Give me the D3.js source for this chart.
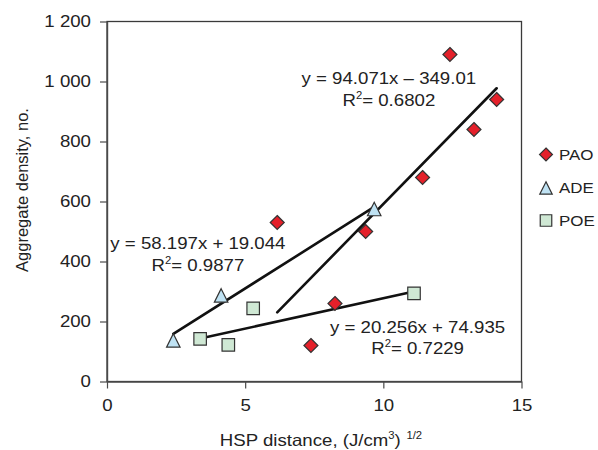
<!DOCTYPE html>
<html>
<head>
<meta charset="utf-8">
<script src="https://cdn.jsdelivr.net/npm/d3@7"></script>
<style>
  html, body { margin: 0; padding: 0; background: #fff; }
  svg { display: block; font-family: "Liberation Sans", Arial, Helvetica, sans-serif; }
  text { fill: #222; }
  .sx { transform-box: fill-box; transform: scaleX(1.13); }
  .sx-start { transform-origin: left center; }
  .sx-mid { transform-origin: center center; }
  .sx-end { transform-origin: right center; }
</style>
</head>
<body>
<svg id="chart" width="598" height="450"></svg>
<script>
// Series: HSP distance (x) vs aggregate density (y)
const seriesNames = ["PAO", "ADE", "POE"];
const paoX = [12.41, 14.10, 13.28, 11.42, 6.16, 9.36, 8.25, 7.38];
const paoY = [1090, 940, 840, 680, 530, 500, 260, 120];
const adeX = [2.40, 4.13, 9.67];
const adeY = [137, 287, 575];
const poeX = [3.37, 4.39, 5.29, 11.11];
const poeY = [142, 122, 244, 294];

// Linear trendlines (slope, intercept) and their fit quality
const trendSlopes = [94.071, 58.197, 20.256];
const trendIntercepts = [-349.01, 19.044, 74.935];
const trendEquations = ["y = 94.071x \u2013 349.01", "y = 58.197x + 19.044", "y = 20.256x + 74.935"];
const trendR2 = ["0.6802", "0.9877", "0.7229"];
// Anchor of each equation label, in data units
const labelX = [10.2, 3.29, 11.24];
const labelY = [990, 440, 162];

// Axis ticks
const xTicks = [0, 5, 10, 15];
const yTicks = [0, 200, 400, 600, 800, 1000, 1200];

const svg = d3.select("#chart");
const x = d3.scaleLinear().domain([0, 15]).range([107, 521.5]);
const y = d3.scaleLinear().domain([0, 1200]).range([381.5, 21.5]);

const fmt = d3.formatLocale({ decimal: ".", thousands: " ", grouping: [3], currency: ["", ""] }).format(",");

// Plot frame
svg.append("rect")
  .attr("x", x(0)).attr("y", y(1200))
  .attr("width", x(15) - x(0)).attr("height", y(0) - y(1200))
  .attr("fill", "none").attr("stroke", "#3a3a3a").attr("stroke-width", 1.3);

// Axes
const yAxis = svg.append("g").attr("transform", `translate(${x(0)},0)`)
  .call(d3.axisLeft(y).tickValues(yTicks).tickFormat(fmt).tickSize(7).tickPadding(9).tickSizeOuter(0));
const xAxis = svg.append("g").attr("transform", `translate(0,${y(0)})`)
  .call(d3.axisBottom(x).tickValues(xTicks).tickFormat(d3.format("d")).tickSize(7).tickPadding(11).tickSizeOuter(0));
[xAxis, yAxis].forEach(g => {
  g.selectAll("path.domain").attr("stroke", "#4a4a4a").attr("stroke-width", 1.4);
  g.selectAll(".tick line").attr("stroke", "#4a4a4a").attr("stroke-width", 1.2);
  g.selectAll(".tick text").attr("font-size", 16.5).attr("fill", "#222")
    .style("font-family", "'Liberation Sans', Arial, sans-serif");
});
yAxis.selectAll(".tick text").attr("class", "sx sx-end");
xAxis.selectAll(".tick text").attr("class", "sx sx-mid");

// Marker shapes
const diamond = { draw(ctx, size) { const r = Math.sqrt(size) / 2; ctx.moveTo(0, -r); ctx.lineTo(r, 0); ctx.lineTo(0, r); ctx.lineTo(-r, 0); ctx.closePath(); } };
const triangle = { draw(ctx, size) { const h = Math.sqrt(size) / 2; ctx.moveTo(0, -h); ctx.lineTo(h, h); ctx.lineTo(-h, h); ctx.closePath(); } };
const square = { draw(ctx, size) { const h = Math.sqrt(size) / 2; ctx.rect(-h, -h, 2 * h, 2 * h); } };

const series = [
  { name: seriesNames[0], xs: paoX, ys: paoY, shape: diamond, size: 14 * 14, fill: "#e4202a" },
  { name: seriesNames[1], xs: adeX, ys: adeY, shape: triangle, size: 13.5 * 13.5, fill: "#bfe2f3" },
  { name: seriesNames[2], xs: poeX, ys: poeY, shape: square, size: 12.5 * 12.5, fill: "#cfe8d4" }
];

// Trendlines over each series' x range
series.forEach((s, i) => {
  const x0 = d3.min(s.xs), x1 = d3.max(s.xs);
  const f = v => trendSlopes[i] * v + trendIntercepts[i];
  svg.append("line")
    .attr("x1", x(x0)).attr("y1", y(f(x0)))
    .attr("x2", x(x1)).attr("y2", y(f(x1)))
    .attr("stroke", "#111").attr("stroke-width", 2.6).attr("stroke-linecap", "round");
});

// Data markers
series.forEach(s => {
  svg.append("g").selectAll("path")
    .data(s.xs.map((v, j) => [v, s.ys[j]]))
    .join("path")
    .attr("transform", d => `translate(${x(d[0])},${y(d[1])})`)
    .attr("d", d3.symbol().type(s.shape).size(s.size))
    .attr("fill", s.fill).attr("stroke", "#333").attr("stroke-width", 1.2);
});

// Equation labels with white background
const S = 1.13;
trendEquations.forEach((eq, i) => {
  const cx = x(labelX[i]), by = y(labelY[i]);
  const g = svg.append("g");
  const bg = g.append("rect").attr("fill", "#fff");
  const t1 = g.append("text").attr("class", "sx sx-mid")
    .attr("x", cx).attr("y", by).attr("text-anchor", "middle").attr("font-size", 16.5).text(eq);
  const t2 = g.append("text").attr("class", "sx sx-mid")
    .attr("x", cx).attr("y", by + 21.5).attr("text-anchor", "middle").attr("font-size", 16.5);
  t2.append("tspan").text("R");
  t2.append("tspan").attr("font-size", 10).attr("dy", -7).text("2");
  t2.append("tspan").attr("dy", 7).text("= " + trendR2[i]);
  const b = t1.node().getBBox();
  const w = b.width * S + 2;
  bg.attr("x", cx - w / 2).attr("y", b.y + 2).attr("width", w).attr("height", b.height - 2);
});

// Legend
const legend = svg.append("g");
const legendRows = [154.5, 188, 220.5];
series.forEach((s, i) => {
  legend.append("path")
    .attr("transform", `translate(546,${legendRows[i]})`)
    .attr("d", d3.symbol().type(s.shape).size(s.size * 0.85))
    .attr("fill", s.fill).attr("stroke", "#333").attr("stroke-width", 1.2);
  legend.append("text").attr("class", "sx sx-start")
    .attr("x", 559).attr("y", legendRows[i] + 5.5)
    .attr("font-size", 15).text(s.name);
});

// Axis titles
const xt = svg.append("text").attr("class", "sx sx-mid")
  .attr("x", 321).attr("y", 446).attr("text-anchor", "middle").attr("font-size", 16.5);
xt.append("tspan").text("HSP distance, (J/cm");
xt.append("tspan").attr("font-size", 10).attr("dy", -7).text("3");
xt.append("tspan").attr("dy", 7).text(")");
xt.append("tspan").attr("font-size", 10).attr("dy", -7).attr("dx", 5).text("1/2");

svg.append("g").attr("transform", "translate(27.5,190) rotate(-90)")
  .append("text").attr("text-anchor", "middle").attr("font-size", 16.5)
  .text("Aggregate density, no.");
</script>
</body>
</html>
